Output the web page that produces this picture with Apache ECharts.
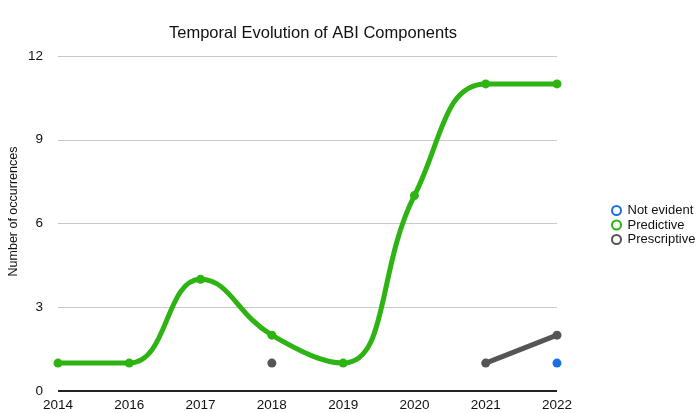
<!DOCTYPE html>
<html>
<head>
<meta charset="utf-8">
<script src="https://cdn.jsdelivr.net/npm/echarts@6/dist/echarts.min.js"></script>
<style>
  html, body { margin: 0; padding: 0; background: #fff; }
  #chart { width: 700px; height: 413px; }
</style>
</head>
<body>
<div id="chart"></div>
<script>
const years = ['2014', '2016', '2017', '2018', '2019', '2020', '2021', '2022']
const notEvident = [null, null, null, null, null, null, null, 1]
const predictive = [1, 1, 4, 2, 1, 7, 11, 11]
const prescriptive = [null, null, null, 1, null, null, 1, 2]
const yTicks = [0, 3, 6, 9, 12]

const font = 'Helvetica, Arial, "Liberation Sans", sans-serif'

const chart = echarts.init(document.getElementById('chart'), null, { renderer: 'canvas' })

const lineSeries = (name, data, color) => ({
  name,
  type: 'line',
  data,
  smooth: 0.45,
  connectNulls: false,
  symbol: 'circle',
  symbolSize: 9,
  showAllSymbol: true,
  lineStyle: { width: 5, color },
  itemStyle: { color, borderWidth: 0 },
  emphasis: { disabled: true }
})

chart.setOption({
  animation: false,
  color: ['#1a6fe6', '#2db312', '#555555'],
  title: {
    text: 'Temporal Evolution of ABI Components',
    left: 308,
    top: 20,
    textAlign: 'center',
    textStyle: { fontFamily: font, fontSize: 16.5, fontWeight: 'normal', color: '#111' }
  },
  legend: {
    orient: 'vertical',
    left: 606,
    top: 199,
    itemWidth: 14,
    itemHeight: 9,
    itemGap: 1.5,
    icon: 'emptyCircle',
    itemStyle: { borderWidth: 3.5 },
    textStyle: { fontFamily: font, fontSize: 13, color: '#111', padding: [0, 0, 0, -1] },
    data: ['Not evident', 'Predictive', 'Prescriptive']
  },
  grid: { left: 58, right: 143, top: 56, bottom: 22, outerBoundsMode: 'none' },
  xAxis: {
    type: 'category',
    data: years,
    boundaryGap: false,
    axisLine: { show: false },
    axisTick: { show: false },
    axisLabel: { fontFamily: font, fontSize: 13.5, color: '#111', margin: 7 }
  },
  yAxis: {
    type: 'value',
    min: yTicks[0],
    max: yTicks[yTicks.length - 1],
    interval: 3,
    name: 'Number of occurrences',
    nameLocation: 'middle',
    nameGap: 38,
    nameMoveOverlap: false,
    nameTextStyle: { fontFamily: font, fontSize: 12.5, color: '#111', padding: [0, 0, 0, 24] },
    axisLine: { show: false },
    axisTick: { show: false },
    axisLabel: { fontFamily: font, fontSize: 13.5, color: '#111', margin: 15 },
    splitLine: { lineStyle: { color: '#c8c8c8', width: 1 } }
  },
  series: [
    lineSeries('Not evident', notEvident, '#1a6fe6'),
    lineSeries('Predictive', predictive, '#2db312'),
    lineSeries('Prescriptive', prescriptive, '#555555'),
    {
      type: 'line',
      data: years.map(() => 0),
      symbol: 'none',
      silent: true,
      lineStyle: { color: '#222', width: 2 },
      z: 1
    }
  ]
})
</script>
</body>
</html>
